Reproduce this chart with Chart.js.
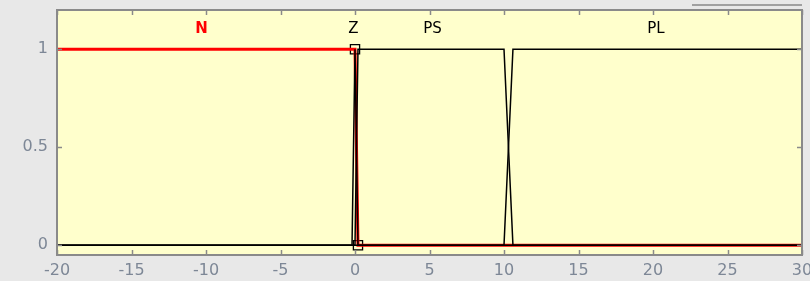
<!DOCTYPE html>
<html>
<head>
<meta charset="utf-8">
<script src="https://cdn.jsdelivr.net/npm/chart.js@4.4.1/dist/chart.umd.min.js"></script>
<style>
  html, body { margin: 0; padding: 0; background: #e8e8e8; }
  #wrap { position: relative; width: 810px; height: 281px; }
  #artifact { position: absolute; left: 692px; top: 4px; width: 110px; height: 2px; background: #a0a0a0; }
</style>
</head>
<body>
<div id="wrap">
  <canvas id="c"></canvas>
  <div id="artifact"></div>
</div>
<script>
// ---- data ----
const xTicks = [-20, -15, -10, -5, 0, 5, 10, 15, 20, 25, 30];
const yTicks = [0, 0.5, 1];

const mfNames = ['N', 'Z', 'PS', 'PL'];
const mfLabelX = [-10.3, -0.1, 5.2, 20.2];
const mfLabelY = 1.1;

const nX = [-20, 0, 0.2, 30];
const nY = [1, 1, 0, 0];
const zX = [-20, -0.2, 0, 0.2, 30];
const zY = [0, 0, 1, 0, 0];
const psX = [-20, 0, 0.2, 10, 10.6, 30];
const psY = [0, 0, 1, 1, 0, 0];
const plX = [-20, 10, 10.6, 30];
const plY = [0, 0, 1, 1];
// handles of the selected MF (N): its inner vertices
const handleIdx = [1, 2];

const pts = (xs, ys) => xs.map((x, i) => ({ x: x, y: ys[i] }));

const FRAME = '#8a8a8a';
const TICKCOL = '#7d8796';

const bgPlugin = {
  id: 'bg',
  beforeDraw(chart) {
    const { ctx, chartArea: a } = chart;
    ctx.save();
    ctx.fillStyle = '#ffffcc';
    ctx.fillRect(a.left, a.top, a.right - a.left, a.bottom - a.top);
    ctx.restore();
  },
  afterDraw(chart) {
    const { ctx, chartArea: a, scales } = chart;
    ctx.save();
    ctx.strokeStyle = FRAME;
    ctx.lineWidth = 1.5;
    const L = 5;
    ctx.beginPath();
    xTicks.forEach(v => {
      const px = Math.round(scales.x.getPixelForValue(v)) + 0.5;
      ctx.moveTo(px, a.bottom); ctx.lineTo(px, a.bottom - L);
      ctx.moveTo(px, a.top); ctx.lineTo(px, a.top + L);
    });
    yTicks.forEach(v => {
      const py = Math.round(scales.y.getPixelForValue(v)) + 0.5;
      ctx.moveTo(a.left, py); ctx.lineTo(a.left + L, py);
      ctx.moveTo(a.right, py); ctx.lineTo(a.right - L, py);
    });
    ctx.stroke();
    ctx.lineWidth = 2;
    ctx.strokeRect(a.left, a.top, a.right - a.left, a.bottom - a.top);
    // MF labels
    ctx.textAlign = 'center';
    ctx.textBaseline = 'middle';
    mfNames.forEach((n, i) => {
      const px = scales.x.getPixelForValue(mfLabelX[i]);
      const py = scales.y.getPixelForValue(mfLabelY);
      ctx.fillStyle = i === 0 ? '#ff0000' : '#000000';
      ctx.font = (i === 0 ? 'bold ' : '') + '15px "DejaVu Sans"';
      ctx.fillText(n, px, py);
    });
    ctx.restore();
  }
};

new Chart(document.getElementById('c'), {
  type: 'scatter',
  data: {
    datasets: [
      { label: 'Z', data: pts(zX, zY), showLine: true, borderColor: '#000', borderWidth: 1.5, pointRadius: 0, fill: false },
      { label: 'PS', data: pts(psX, psY), showLine: true, borderColor: '#000', borderWidth: 1.5, pointRadius: 0, fill: false },
      { label: 'PL', data: pts(plX, plY), showLine: true, borderColor: '#000', borderWidth: 1.5, pointRadius: 0, fill: false },
      { label: 'N', data: pts(nX, nY), showLine: true, borderColor: '#ff0000', borderWidth: 3, pointRadius: 0, fill: false },
      { label: 'handles', data: handleIdx.map(i => ({ x: nX[i], y: nY[i] })), showLine: false,
        pointStyle: 'rect', pointRadius: 6.5, borderColor: '#000', borderWidth: 1.3, backgroundColor: 'rgba(0,0,0,0)' }
    ]
  },
  options: {
    responsive: true,
    maintainAspectRatio: false,
    animation: false,
    clip: false,
    layout: { padding: { top: 10, right: 8, left: 0, bottom: 0 } },
    plugins: { legend: { display: false }, tooltip: { enabled: false } },
    scales: {
      x: {
        type: 'linear', min: -20, max: 30,
        afterBuildTicks: s => { s.ticks = xTicks.map(v => ({ value: v })); },
        afterFit: s => { s.height = 26; s.paddingLeft = 0; s.paddingRight = 0; },
        grid: { display: false, drawTicks: false },
        border: { display: false },
        ticks: { color: TICKCOL, padding: 6, font: { family: 'DejaVu Sans', size: 16 }, maxRotation: 0, autoSkip: false,
                 callback: v => String(v) }
      },
      y: {
        type: 'linear', min: -0.05, max: 1.2,
        afterBuildTicks: s => { s.ticks = yTicks.map(v => ({ value: v })); },
        afterFit: s => { s.width = 57; s.paddingTop = 0; s.paddingBottom = 0; },
        grid: { display: false, drawTicks: false },
        border: { display: false },
        ticks: { color: TICKCOL, padding: 9, font: { family: 'DejaVu Sans', size: 16 }, autoSkip: false,
                 callback: v => String(v) }
      }
    }
  },
  plugins: [bgPlugin]
});
</script>
</body>
</html>
